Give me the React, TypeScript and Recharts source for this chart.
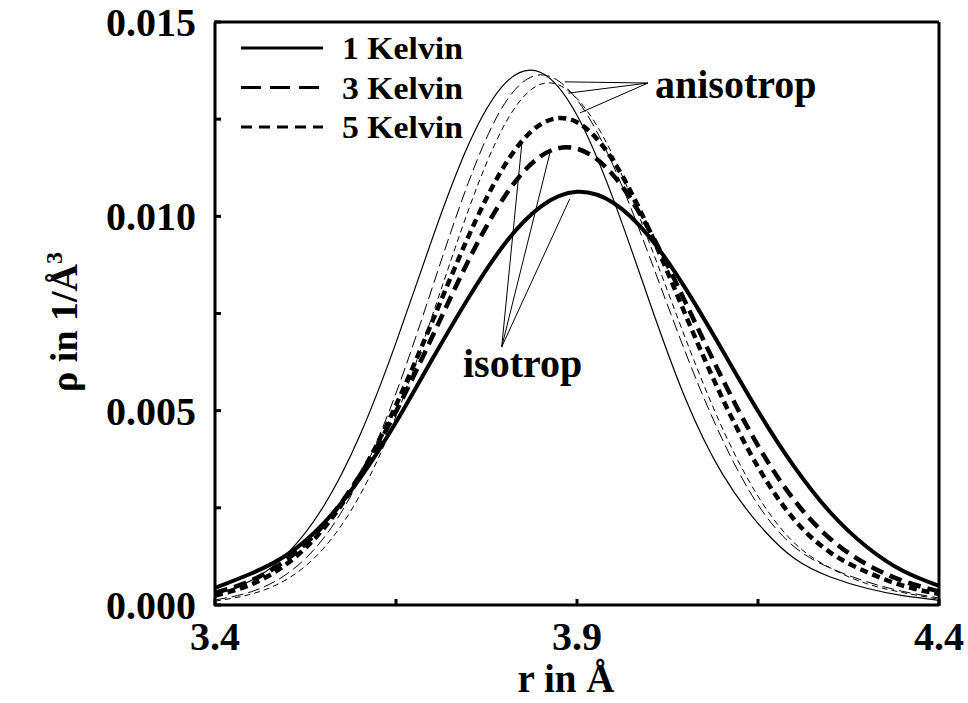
import React from 'react';
import { LineChart, Line, XAxis, YAxis, ReferenceLine, Customized } from 'recharts';

// r in Angstrom
const rValues = [3.40, 3.45, 3.50, 3.55, 3.60, 3.65, 3.70, 3.75, 3.80, 3.85, 3.90, 3.95, 4.00, 4.05, 4.10, 4.15, 4.20, 4.25, 4.30, 4.35, 4.40];

// isotrop densities (1/A^3)
const isotrop1K = [0.00044, 0.00081, 0.00130, 0.00210, 0.00325, 0.00470, 0.00632, 0.00790, 0.00929, 0.01025, 0.01063, 0.01035, 0.00947, 0.00814, 0.00658, 0.00499, 0.00356, 0.00238, 0.00150, 0.00088, 0.00049];
const isotrop3K = [0.00031, 0.00063, 0.00118, 0.00206, 0.00333, 0.00498, 0.00690, 0.00886, 0.01051, 0.01155, 0.01174, 0.01106, 0.00964, 0.00778, 0.00585, 0.00410, 0.00270, 0.00170, 0.00105, 0.00062, 0.00035];
const isotrop5K = [0.00024, 0.00053, 0.00107, 0.00197, 0.00332, 0.00514, 0.00729, 0.00948, 0.01131, 0.01237, 0.01242, 0.01143, 0.00964, 0.00746, 0.00535, 0.00355, 0.00220, 0.00135, 0.00085, 0.00050, 0.00028];

// anisotrop densities (1/A^3)
const anisotrop1K = [0.00027, 0.00063, 0.00133, 0.00254, 0.00436, 0.00675, 0.00942, 0.01184, 0.01341, 0.01370, 0.01260, 0.01045, 0.00781, 0.00530, 0.00340, 0.00210, 0.00120, 0.00072, 0.00043, 0.00024, 0.00012];
const anisotrop3K = [0.00013, 0.00034, 0.00081, 0.00172, 0.00325, 0.00545, 0.00816, 0.01087, 0.01290, 0.01364, 0.01300, 0.01131, 0.00897, 0.00649, 0.00429, 0.00258, 0.00150, 0.00095, 0.00060, 0.00035, 0.00018];
const anisotrop5K = [0.00010, 0.00028, 0.00067, 0.00146, 0.00282, 0.00485, 0.00744, 0.01016, 0.01236, 0.01340, 0.01303, 0.01155, 0.00932, 0.00685, 0.00458, 0.00280, 0.00160, 0.00095, 0.00055, 0.00032, 0.00015];

const xTicks = [3.4, 3.65, 3.9, 4.15, 4.4];
const xLabelTicks = [3.4, 3.9, 4.4];
const yTicks = [0, 0.0025, 0.005, 0.0075, 0.01, 0.0125, 0.015];
const yLabelTicks = [0, 0.005, 0.01, 0.015];

const legendLabels = ['1 Kelvin', '3 Kelvin', '5 Kelvin'];
const annotationLabels = ['anisotrop', 'isotrop'];

const data = rValues.map((r, i) => ({
  r,
  iso1: isotrop1K[i],
  iso3: isotrop3K[i],
  iso5: isotrop5K[i],
  an1: anisotrop1K[i],
  an3: anisotrop3K[i],
  an5: anisotrop5K[i],
}));

const FONT = '"Liberation Serif", "Times New Roman", serif';

const series = [
  { key: 'an1', width: 1.2, dash: undefined },
  { key: 'an3', width: 1, dash: '12 5' },
  { key: 'an5', width: 1, dash: '6 4' },
  { key: 'iso1', width: 4, dash: undefined },
  { key: 'iso3', width: 4.5, dash: '13 7' },
  { key: 'iso5', width: 4.5, dash: '8 5' },
];

const legendDash = [undefined, '20 9', '11 7'];

const XTick = (props: any) => {
  const { x, y, payload } = props;
  const v = payload.value;
  const show = xLabelTicks.some((t) => Math.abs(t - v) < 1e-9);
  return (
    <g>
      <line x1={x} y1={y + 1} x2={x} y2={y - 6} stroke="#000" strokeWidth={3} />
      {show && (
        <text x={x} y={y + 45} textAnchor="middle" fontFamily={FONT} fontWeight="bold" fontSize={40} fill="#000">
          {v.toFixed(1)}
        </text>
      )}
    </g>
  );
};

const YTick = (props: any) => {
  const { x, y, payload } = props;
  const v = payload.value;
  const show = yLabelTicks.some((t) => Math.abs(t - v) < 1e-9);
  return (
    <g>
      <line x1={x - 1} y1={y} x2={x + 6} y2={y} stroke="#000" strokeWidth={3} />
      {show && (
        <text x={x - 19} y={y + 14} textAnchor="end" fontFamily={FONT} fontWeight="bold" fontSize={40} fill="#000">
          {v.toFixed(3)}
        </text>
      )}
    </g>
  );
};

const Decorations = () => (
  <g>
    {legendLabels.map((lab, i) => (
      <g key={lab}>
        <line x1={241} x2={323} y1={48 + i * 39.5} y2={48 + i * 39.5} stroke="#000" strokeWidth={3} strokeDasharray={legendDash[i]} />
        <text x={342} y={59 + i * 39.5} fontFamily={FONT} fontWeight="bold" fontSize={31} fill="#000" textLength={121} lengthAdjust="spacingAndGlyphs">
          {lab}
        </text>
      </g>
    ))}
    <text x={655} y={98} fontFamily={FONT} fontWeight="bold" fontSize={40} fill="#000">{annotationLabels[0]}</text>
    <text x={463} y={377} fontFamily={FONT} fontWeight="bold" fontSize={40} fill="#000">{annotationLabels[1]}</text>
    <text transform="translate(77, 322) rotate(-90)" textAnchor="middle" fontFamily={FONT} fontWeight="bold" fontSize={38} fill="#000">
      ρ in 1/Å<tspan dy={-15} fontSize={24}>3</tspan>
    </text>
    <text x={566} y={692} textAnchor="middle" fontFamily={FONT} fontWeight="bold" fontSize={39} fill="#000">r in Å</text>
  </g>
);

const anisoTarget = { x: 3.998, y: 0.01343 };
const anisoEnds = [{ x: 3.883, y: 0.01346 }, { x: 3.888, y: 0.01317 }, { x: 3.904, y: 0.01266 }];
const isoTarget = { x: 3.796, y: 0.00664 };
const isoEnds = [{ x: 3.824, y: 0.01191 }, { x: 3.863, y: 0.01166 }, { x: 3.89, y: 0.01045 }];

export default function App() {
  return (
    <div style={{ position: 'absolute', left: 0, top: 0, width: 968, height: 703, background: '#fff' }}>
      <LineChart width={968} height={703} data={data} margin={{ top: 22, right: 29, bottom: 38, left: 15 }}>
        <XAxis
          dataKey="r"
          type="number"
          domain={[3.4, 4.4]}
          ticks={xTicks}
          height={60}
          tickSize={0}
          tickMargin={0}
          tickLine={false}
          tick={<XTick />}
          axisLine={{ stroke: '#000', strokeWidth: 3 }}
          interval={0}
        />
        <YAxis
          type="number"
          domain={[0, 0.015]}
          ticks={yTicks}
          width={200}
          tickSize={0}
          tickMargin={0}
          tickLine={false}
          tick={<YTick />}
          axisLine={{ stroke: '#000', strokeWidth: 3 }}
          interval={0}
        />
        <ReferenceLine y={0.015} stroke="#000" strokeWidth={3} />
        <ReferenceLine x={4.4} stroke="#000" strokeWidth={3} />
        {series.map((s) => (
          <Line
            key={s.key}
            dataKey={s.key}
            type="natural"
            stroke="#000"
            strokeWidth={s.width}
            strokeDasharray={s.dash}
            dot={false}
            activeDot={false}
            isAnimationActive={false}
          />
        ))}
        {anisoEnds.map((e, i) => (
          <ReferenceLine key={'a' + i} segment={[anisoTarget, e]} stroke="#000" strokeWidth={1} />
        ))}
        {isoEnds.map((e, i) => (
          <ReferenceLine key={'i' + i} segment={[isoTarget, e]} stroke="#000" strokeWidth={1} />
        ))}
        <Customized component={<Decorations />} />
      </LineChart>
    </div>
  );
}
